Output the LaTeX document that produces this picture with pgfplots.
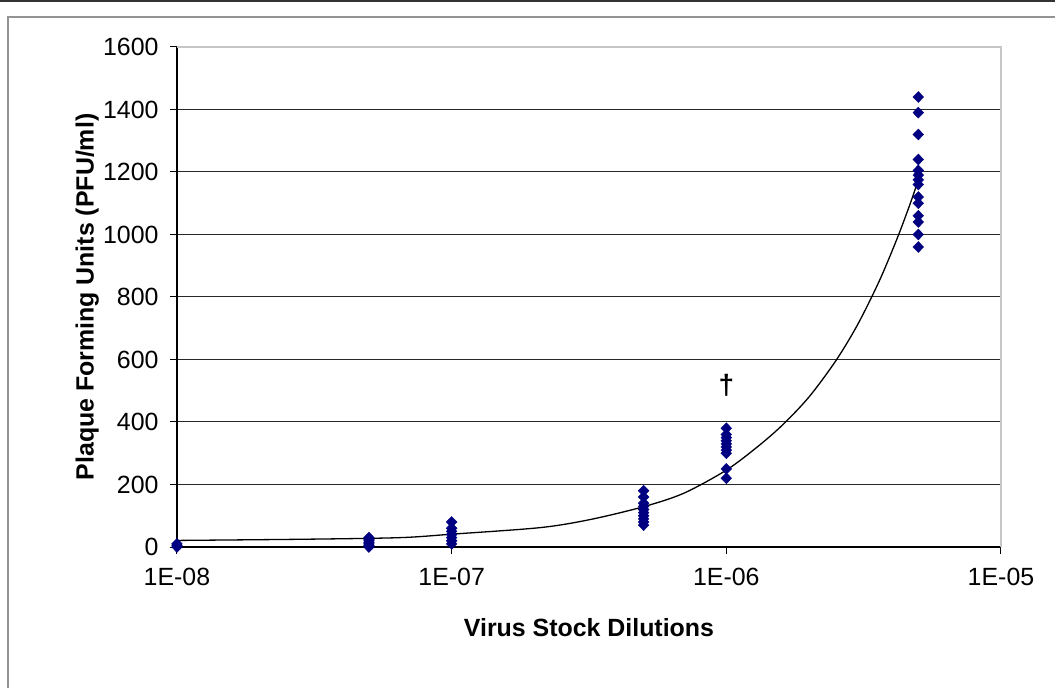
\documentclass[border=0pt]{standalone}
\usepackage{pgfplots}
\pgfplotsset{compat=1.18}
\usepackage{fontspec}
\setmainfont{Liberation Sans}
\definecolor{navy}{RGB}{0,0,128}
\definecolor{gridc}{RGB}{40,40,40}
\begin{document}
\begin{tikzpicture}
\useasboundingbox (-177bp,-141bp) rectangle (878bp,547bp);
% outer frame bits
\draw[black!80, line width=1.5bp] (-177bp,546bp) -- (878bp,546bp);
\draw[gray!85, line width=1.5bp] (-169bp,-141bp) -- (-169bp,530bp) -- (878bp,530bp);
\begin{axis}[
    at={(0,0)}, anchor=south west,
    scale only axis,
    width=824bp, height=500bp,
    xmode=log, log basis x=10,
    xmin=1e-8, xmax=1e-5,
    ymin=0, ymax=1600,
    axis lines=left,
    axis line style={-, line width=1.2bp, black},
    xtick={1e-8,1e-7,1e-6,1e-5},
    xticklabels={1E-08,1E-07,1E-06,1E-05},
    ytick={0,200,...,1600},
    minor xtick={},
    tick align=outside,
    major tick length=7bp,
    tick style={line width=1bp, black},
    ymajorgrids,
    grid style={gridc, line width=1bp},
    clip=false,
    /pgf/number format/assume math mode=true,
    /pgf/number format/1000 sep={},
    ticklabel style={font=\fontsize{25}{30}\selectfont},
    yticklabel style={xshift=-8bp},
    xticklabel style={yshift=-11bp},
    label style={font=\bfseries\fontsize{25}{30}\selectfont},
    xlabel={Virus Stock Dilutions},
    ylabel={Plaque Forming Units (PFU/ml)},
    xlabel style={at={(axis description cs:0.5,-0.162)}, anchor=center},
    ylabel style={at={(axis description cs:-0.109,0.5)}, anchor=center},
]
\draw[gray!45, line width=1.5bp] (rel axis cs:0,1) -- (rel axis cs:1,1) -- (rel axis cs:1,0);
% fitted curve
\addplot[black, line width=1.3bp, smooth, no marks] coordinates {
    (1e-8,21) (3e-8,25) (6.5e-8,30) (1e-7,41) (2.1e-7,62) (3.2e-7,88)
    (5e-7,129) (7e-7,172) (1e-6,246) (1.3e-6,321) (1.6e-6,390)
    (2e-6,480) (2.5e-6,595) (3e-6,710) (3.6e-6,850) (4.2e-6,990)
    (4.7e-6,1105) (5e-6,1175)
};
% measured plaque counts
\addplot[only marks, mark=diamond*, mark size=5.5bp, navy, mark options={fill=navy, draw=navy, xscale=1.3}] coordinates {
    (1e-8,0) (1e-8,5) (1e-8,10)
    (5e-8,0) (5e-8,5) (5e-8,10) (5e-8,15) (5e-8,20) (5e-8,25) (5e-8,30)
    (1e-7,10) (1e-7,20) (1e-7,30) (1e-7,40) (1e-7,50) (1e-7,60) (1e-7,80)
    (5e-7,70) (5e-7,80) (5e-7,90) (5e-7,100) (5e-7,110) (5e-7,120)
    (5e-7,130) (5e-7,140) (5e-7,160) (5e-7,180)
    (1e-6,220) (1e-6,250) (1e-6,300) (1e-6,310) (1e-6,320) (1e-6,330)
    (1e-6,340) (1e-6,350) (1e-6,360) (1e-6,380)
    (5e-6,960) (5e-6,1000) (5e-6,1040) (5e-6,1060) (5e-6,1100) (5e-6,1120)
    (5e-6,1160) (5e-6,1175) (5e-6,1190) (5e-6,1205) (5e-6,1240) (5e-6,1320)
    (5e-6,1390) (5e-6,1440)
};
\node[font=\bfseries\fontsize{28}{32}\selectfont] at (axis cs:1e-6,518) {†};
\end{axis}
\end{tikzpicture}
\end{document}
